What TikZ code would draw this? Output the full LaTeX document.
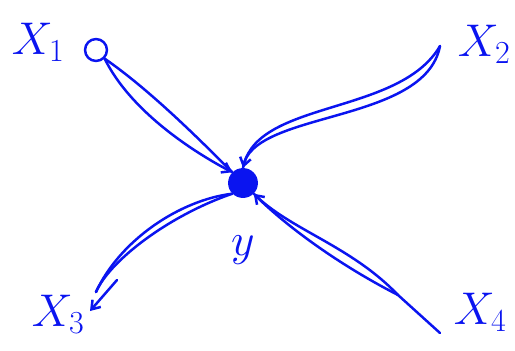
\RequirePackage{fix-cm}
\documentclass[tikz,border=0pt]{standalone}
\usetikzlibrary{arrows.meta}
\definecolor{ink}{RGB}{10,20,240}
\begin{document}
\begin{tikzpicture}[x=1bp,y=-1bp,
  pen/.style={draw=ink,line width=2.5pt,line cap=round,line join=round},
  lbl/.style={text=ink,font=\fontsize{46}{46}\selectfont,inner sep=0pt},
  tip/.style={-{Straight Barb[length=8pt,width=11pt]}}]
\useasboundingbox (0,0) rectangle (515,350);
% labels
\node[lbl] (x1) at (38,42) {$X_1$};
\node[lbl] (x2) at (484,44) {$X_2$};
\node[lbl] (x3) at (58,314) {$X_3$};
\node[lbl] (x4) at (480,312) {$X_4$};
\node[lbl] (ylab) at (243,250) {$y$};
% nodes
\node[pen,circle,minimum size=22pt,inner sep=0pt] (c1) at (96,50) {};
\node[circle,fill=ink,minimum size=30pt,inner sep=0pt] (y) at (243,183) {};
% coordinates
\coordinate (p2) at (440,46);
\coordinate (p3) at (96,292);
\coordinate (a3s) at (117,280);
\coordinate (a3e) at (90,311);
\coordinate (m4) at (398,295);
\coordinate (p4) at (440,333);
% X1 -> y
\draw[pen] (c1.south east) .. controls (150,90) and (200,140) .. (y.north west);
\draw[pen,tip] (c1.south east) .. controls (130,110) and (190,150) .. (y.north west);
% X2 -> y
\draw[pen,tip] (p2) .. controls (400,115) and (260,100) .. (y.north);
\draw[pen] (p2) .. controls (425,125) and (250,110) .. (y.north);
% y -> X3
\draw[pen] (y.south west) .. controls (180,200) and (120,240) .. (p3);
\draw[pen] (y.south west) .. controls (170,215) and (110,260) .. (p3);
\draw[pen,tip] (a3s) -- (a3e);
% X4 -> y
\draw[pen] (m4) .. controls (350,245) and (290,230) .. (y.south east);
\draw[pen,tip] (m4) .. controls (330,260) and (280,220) .. (y.south east);
\draw[pen] (m4) -- (p4);
\end{tikzpicture}
\end{document}
